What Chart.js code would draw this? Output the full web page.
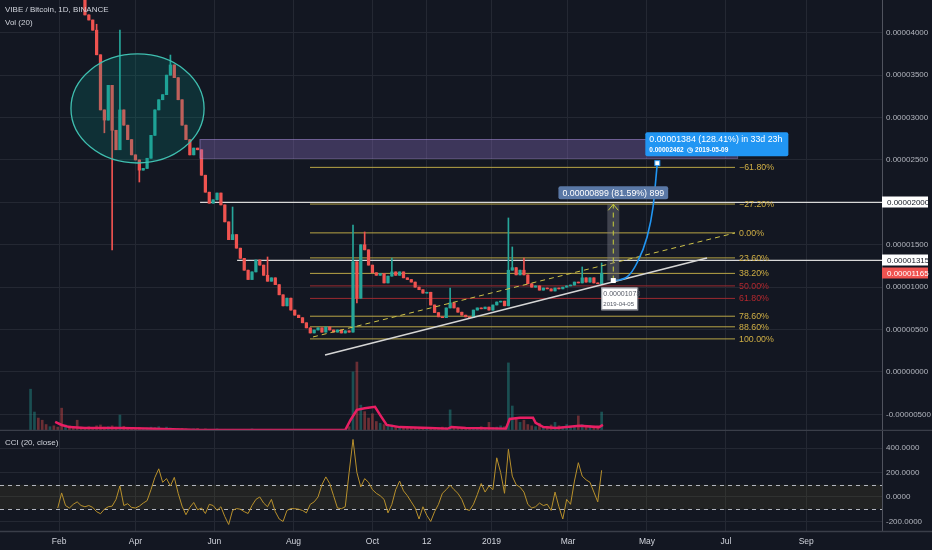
<!DOCTYPE html>
<html>
<head>
<meta charset="utf-8">
<script src="https://cdn.jsdelivr.net/npm/chart.js@4.4.1/dist/chart.umd.min.js"></script>
<style>
  html, body { margin: 0; padding: 0; background: #131722; }
  #wrap { position: relative; width: 932px; height: 550px; background: #131722; overflow: hidden; }
  canvas { position: absolute; left: 0; }
</style>
</head>
<body>
<div id="wrap">
  <canvas id="price" width="932" height="431" style="top:0"></canvas>
  <canvas id="cci" width="932" height="119" style="top:431px"></canvas>
</div>
<script>
// x values are days counted from 2018-02-01; prices are in satoshi (1e-8 BTC)
const startDay = -22;   // first candle 2018-01-10
const stepDays = 3;     // one candle per 3 days
const firstOpen = 6200;

const closes = [
  6500, 7000, 6800, 6200, 5900, 6000, 5600, 5300, 5100, 5200,
  4900, 4800, 4600, 4450, 4210, 4150, 4030, 3740, 3090, 2970,
  3380, 2850, 2620, 3090, 2910, 2740, 2560, 2500, 2380, 2400,
  2520, 2790, 3090, 3210, 3270, 3500, 3620, 3470, 3210, 2910,
  2740, 2560, 2640, 2620, 2320, 2120, 1990, 2030, 2110, 1970,
  1770, 1560, 1620, 1460, 1340, 1200, 1090, 1180, 1320, 1260,
  1140, 1070, 1110, 1030, 910, 780, 870, 730, 670, 640,
  580, 520, 460, 495, 520, 470, 530, 495, 470, 495,
  460, 485, 470, 1300, 870, 1500, 1440, 1260, 1170, 1140,
  1160, 1050, 1130, 1180, 1140, 1180, 1110, 1090, 1060, 1000,
  970, 930, 940, 790, 700, 650, 640, 755, 815, 755,
  705, 670, 650, 640, 730, 755, 745, 765, 730, 790,
  825, 835, 780, 1200, 1230, 1145, 1200, 1145, 1040, 1000,
  1015, 965, 990, 980, 955, 990, 980, 1000, 1015, 1025,
  1060, 1050, 1110, 1060, 1110, 1050, 1040, 1165
];
// notable wicks: [candle index, price]
const wickHighs = [[17, 4100], [23, 4032], [36, 3737], [52, 1945], [61, 1356], [83, 1733],
  [86, 1651], [93, 1344], [108, 990], [123, 1816], [124, 1474], [127, 1344], [142, 1238], [147, 1285]];
const wickLows = [[19, 2820], [21, 1440], [28, 2240], [84, 814]];

const volumes = [
  97, 44, 30, 25, 15, 10, 12, 9, 53, 14,
  12, 10, 25, 9, 8, 10, 7, 12, 14, 9,
  10, 12, 9, 37, 11, 8, 7, 6, 8, 6,
  7, 9, 8, 10, 6, 9, 7, 6, 5, 6,
  5, 4, 5, 6, 4, 5, 3, 4, 5, 3,
  4, 3, 4, 3, 3, 4, 3, 5, 3, 3,
  2, 3, 4, 3, 2, 3, 2, 2, 3, 2,
  2, 3, 2, 3, 2, 4, 3, 2, 3, 2,
  3, 4, 10, 137, 160, 60, 45, 30, 40, 22,
  18, 15, 12, 14, 10, 9, 8, 10, 7, 6,
  6, 7, 5, 8, 6, 7, 9, 8, 49, 10,
  7, 6, 5, 6, 8, 7, 10, 6, 20, 8,
  9, 12, 10, 158, 58, 30, 20, 25, 15, 12,
  10, 18, 9, 11, 14, 20, 12, 10, 15, 11,
  12, 35, 15, 10, 13, 11, 12, 44
];
const volMaDays = [-3, 2, 8, 20, 47, 66, 109, 221, 225, 230, 236, 244, 248, 253, 263, 286, 300, 303, 314, 345, 348, 356, 366, 368, 374, 384, 402, 417, 420];
const volMaValues = [21, 14, 9, 7, 7, 6, 2.3, 2.3, 25, 49, 53, 56, 37, 14, 9, 7, 5, 9, 7, 5, 28, 31, 31, 19, 9, 7, 12, 9, 14];

const cciValues = [
  null, null, null, null, null, null, null, -90, 33, -70,
  -90, -60, -40, -70, -80, -70, -85, -120, -137, -100,
  -80, -75, -20, 90, -70, -55, -85, -90, -75, -50,
  -30, 60, 160, 230, 120, 150, 90, 160, 30, -75,
  -145, -85, -45, -105, -90, -135, -60, -70, -110, -80,
  -160, -225, -110, -95, -100, -120, -135, -70, -20, 0,
  -50, -80, -20, -120, -180, -200, -110, -95, -96, -100,
  -110, -130, -60, -40, 0, 100, 164, 110, 10, -90,
  -96, -80, 200, 470, 200, 82, 150, 120, 60, 30,
  10, -20, -130, -60, 60, 130, 50, 10, -40, -90,
  -180, -80, -150, -200, -120, -60, 30, 60, 96, 60,
  30, -20, -100, -110, -60, 20, 110, 40, 90, 60,
  320, 200, 30, 390, 170, 100, 80, 40, -60, -90,
  -80, -50, -70, -60, -110, 40, -80, -180, -20, -60,
  130, 280, 170, 140, 120, 40, -40, 218
];

const monthDays = [0, 59, 120, 181, 242, 284, 334, 393, 454, 515, 577];
const monthLabels = ['Feb', 'Apr', 'Jun', 'Aug', 'Oct', '12', '2019', 'Mar', 'May', 'Jul', 'Sep'];
const priceTicks = [-500, 0, 500, 1000, 1500, 2000, 2500, 3000, 3500, 4000];
const cciTicks = [-200, 0, 200, 400];

const fibRatios = [-0.618, -0.272, 0, 0.236, 0.382, 0.5, 0.618, 0.786, 0.886, 1];
const fibLabels = ['\u221261.80%', '\u221227.20%', '0.00%', '23.60%', '38.20%', '50.00%', '61.80%', '78.60%', '88.60%', '100.00%'];
const fibHigh = 1640, fibLow = 390;
const fibDays = [193.8, 522];

const supportLine = [[205.4, 200], [500.4, 1344]];
const dashedTrend = [[196.1, 413], [522, 1639]];
const rayLevels = [[108.9, 2000], [137.5, 1315]];
const projDays = [428, 438.6, 446.3, 454.1, 458.7, 462];
const projValues = [1078, 1120, 1285, 1592, 1945, 2462];
const measureDay = 428, measureFrom = 1078, measureTo = 1977;
const zoneDays = [108.5, 523.6], zoneValues = [2523, 2747];
const ellipseCenter = [60.6, 3107], ellipseRadius = [51.4, 643];
const lastPrice = 1165;

const X_MIN = -45.6, X_MAX = 635.5;
const GRID = '#242833';
const UP = '#26a69a', DOWN = '#ef5350';
const FONT = "'Liberation Sans', Arial, sans-serif";

Chart.defaults.font.family = FONT;
Chart.defaults.font.size = 10;
Chart.defaults.color = '#b2b5be';

const candleDays = closes.map((_, i) => startDay + stepDays * i);
const opens = closes.map((c, i) => i === 0 ? firstOpen : closes[i - 1]);
const highs = closes.map((c, i) => Math.max(c, opens[i]));
const lows = closes.map((c, i) => Math.min(c, opens[i]));
wickHighs.forEach(([i, v]) => { highs[i] = Math.max(highs[i], v); });
wickLows.forEach(([i, v]) => { lows[i] = Math.min(lows[i], v); });
const isUp = closes.map((c, i) => c >= opens[i]);

const fmtPrice = v => (v < 0 ? '-' : '') + (Math.abs(v) / 1e8).toFixed(8);
const fmtCci = v => (v < 0 ? '-' : '') + Math.abs(v).toFixed(4);
const line = (pts, color, width, extra) => Object.assign({
  type: 'line', data: pts.map(([x, y]) => ({ x, y })), borderColor: color, borderWidth: width,
  pointRadius: 0, yAxisID: 'y', order: 2
}, extra || {});

const fibDatasets = fibRatios.map(r => {
  const v = fibHigh - r * (fibHigh - fibLow);
  const red = r === 0.5 || r === 0.618;
  return line([[fibDays[0], v], [fibDays[1], v]], red ? '#9c2a30' : '#b9a546', 1, { order: 15 });
});

function box(ctx, x, y, w, h, fill) {
  ctx.fillStyle = fill;
  ctx.beginPath();
  if (ctx.roundRect) ctx.roundRect(x, y, w, h, 2); else ctx.rect(x, y, w, h);
  ctx.fill();
}

const overlays = {
  id: 'overlays',
  afterDatasetsDraw(chart) {
    const { ctx, chartArea: a, scales: { x, y } } = chart;
    const px = d => x.getPixelForValue(d), py = v => y.getPixelForValue(v);
    ctx.save();
    ctx.beginPath(); ctx.rect(a.left, a.top, a.width, a.height); ctx.clip();

    // teal ellipse
    const cx = px(ellipseCenter[0]), cy = py(ellipseCenter[1]);
    const rx = px(ellipseCenter[0] + ellipseRadius[0]) - cx, ry = cy - py(ellipseCenter[1] + ellipseRadius[1]);
    ctx.beginPath(); ctx.ellipse(cx, cy, rx, ry, 0, 0, Math.PI * 2);
    ctx.fillStyle = 'rgba(0,150,136,0.2)'; ctx.fill();
    ctx.strokeStyle = '#3fbfb0'; ctx.lineWidth = 1.3; ctx.stroke();

    // purple zone
    const zx1 = px(zoneDays[0]), zx2 = px(zoneDays[1]);
    const zy1 = py(zoneValues[1]), zy2 = py(zoneValues[0]);
    ctx.fillStyle = 'rgba(149,117,205,0.33)';
    ctx.fillRect(zx1, zy1, zx2 - zx1, zy2 - zy1);
    ctx.strokeStyle = 'rgba(170,145,220,0.45)'; ctx.lineWidth = 1;
    ctx.strokeRect(zx1 + 0.5, zy1 + 0.5, zx2 - zx1, zy2 - zy1);

    // price-range measure
    const mx = px(measureDay), my1 = py(measureFrom), my2 = py(measureTo);
    ctx.fillStyle = 'rgba(120,123,134,0.45)';
    ctx.fillRect(mx - 6, my2, 12, my1 - my2);
    ctx.strokeStyle = '#c9cf3a'; ctx.lineWidth = 1; ctx.setLineDash([5, 4]);
    ctx.beginPath(); ctx.moveTo(mx, my1); ctx.lineTo(mx, my2); ctx.stroke();
    ctx.setLineDash([]);
    ctx.beginPath(); ctx.moveTo(mx - 5, my2 + 6); ctx.lineTo(mx, my2); ctx.lineTo(mx + 5, my2 + 6); ctx.stroke();

    // fib labels
    ctx.font = '8.8px ' + FONT;
    ctx.textBaseline = 'middle'; ctx.textAlign = 'left';
    fibRatios.forEach((r, i) => {
      const v = fibHigh - r * (fibHigh - fibLow);
      ctx.fillStyle = (r === 0.5 || r === 0.618) ? '#b3282e' : '#d0af45';
      ctx.fillText(fibLabels[i], px(fibDays[1]) + 4, py(v) + 0.5);
    });

    // end markers
    const ex = px(projDays[projDays.length - 1]), ey = py(projValues[projValues.length - 1]);
    const sx = px(projDays[0]), sy = py(projValues[0]);
    ctx.fillStyle = '#ffffff';
    ctx.fillRect(ex - 2.5, ey - 2.5, 5, 5);
    ctx.fillRect(sx - 2.5, sy - 2.5, 5, 5);
    ctx.strokeStyle = '#2196f3'; ctx.strokeRect(ex - 2.5, ey - 2.5, 5, 5);

    // projection label
    const t1 = '0.00001384 (128.41%) in 33d 23h', t2 = '0.00002462  \u25F7 2019-05-09';
    ctx.font = '8.8px ' + FONT;
    const w1 = ctx.measureText(t1).width;
    box(ctx, ex - 12, ey - 31, w1 + 10, 24, '#2196f3');
    ctx.fillStyle = '#ffffff';
    ctx.fillText(t1, ex - 8, ey - 24);
    ctx.font = 'bold 6.5px ' + FONT;
    ctx.fillText(t2, ex - 8, ey - 13);

    // measure label
    const t3 = '0.00000899 (81.59%) 899';
    ctx.font = '8.8px ' + FONT;
    const w3 = ctx.measureText(t3).width + 8;
    box(ctx, mx - w3 / 2, my2 - 18, w3, 13, '#5a78a6');
    ctx.fillStyle = '#ffffff';
    ctx.textAlign = 'center';
    ctx.fillText(t3, mx, my2 - 11);

    // start point label
    ctx.fillStyle = '#ffffff';
    ctx.fillRect(sx - 12, sy + 7, 36, 22);
    ctx.strokeStyle = '#9598a1'; ctx.strokeRect(sx - 12 + 0.5, sy + 7.5, 36, 22);
    ctx.textAlign = 'left';
    ctx.fillStyle = '#555a66';
    ctx.font = '7px ' + FONT;
    ctx.fillText('0.00001078', sx - 10, sy + 14);
    ctx.font = '6px ' + FONT;
    ctx.fillText('2019-04-05', sx - 10, sy + 24);
    ctx.restore();
  },
  afterDraw(chart) {
    const { ctx, chartArea: a, scales: { y } } = chart;
    ctx.save();
    // price scale tags
    const tag = (v, fill, color) => {
      const yy = Math.round(y.getPixelForValue(v));
      ctx.fillStyle = fill;
      ctx.fillRect(a.right, yy - 5.5, 46, 11);
      ctx.fillStyle = color;
      ctx.font = '8px ' + FONT;
      ctx.textBaseline = 'middle'; ctx.textAlign = 'left';
      ctx.fillText(fmtPrice(v), a.right + 5, yy + 0.5);
    };
    tag(rayLevels[0][1], '#ffffff', '#131722');
    tag(rayLevels[1][1], '#ffffff', '#131722');
    tag(lastPrice, '#ef5350', '#ffffff');

    // legend text
    ctx.fillStyle = '#d1d4dc';
    ctx.font = '8px ' + FONT;
    ctx.textBaseline = 'middle'; ctx.textAlign = 'left';
    ctx.fillText('VIBE / Bitcoin, 1D, BINANCE', 5, 10);
    ctx.fillText('Vol (20)', 5, 23);

    // pane separator
    ctx.strokeStyle = '#3a3e49'; ctx.lineWidth = 1.5;
    ctx.beginPath(); ctx.moveTo(0, a.bottom - 0.5); ctx.lineTo(chart.width, a.bottom - 0.5); ctx.stroke();
    ctx.restore();
  }
};

const xScale = (showLabels) => ({
  type: 'linear', min: X_MIN, max: X_MAX, offset: false,
  afterBuildTicks: s => { s.ticks = monthDays.map(v => ({ value: v })); },
  ticks: showLabels
    ? { display: true, callback: (v, i) => monthLabels[i], color: '#d1d4dc', padding: 6, maxRotation: 0, autoSkip: false, font: { size: 8.5 } }
    : { display: false },
  grid: { color: GRID, drawTicks: false, offset: false },
  border: { display: false },
  afterFit: s => { s.height = showLabels ? 19 : 0; s.paddingLeft = 0; s.paddingRight = 0; }
});

const yScale = (min, max, tickValues, fmt) => ({
  position: 'right', min, max,
  afterBuildTicks: s => { s.ticks = tickValues.map(v => ({ value: v })); },
  ticks: { callback: fmt, color: '#b2b5be', padding: 4, font: { size: 8 } },
  grid: { color: GRID, drawTicks: false },
  border: { color: '#50535e' },
  afterFit: s => { s.width = 50; s.paddingTop = 0; s.paddingBottom = 0; }
});

new Chart(document.getElementById('price'), {
  type: 'bar',
  data: {
    datasets: [
      {
        type: 'bar', yAxisID: 'yv', order: 20, grouped: false, barThickness: 2,
        data: volumes.map((v, i) => ({ x: candleDays[i], y: v })),
        backgroundColor: isUp.map(u => u ? 'rgba(38,166,154,0.4)' : 'rgba(239,83,80,0.4)')
      },
      line(volMaDays.map((d, i) => [d, volMaValues[i]]), '#e91e63', 2.5, { yAxisID: 'yv', order: 19 }),
      ...fibDatasets,
      line([rayLevels[0], [X_MAX + 5, rayLevels[0][1]]], '#d8d8d8', 1.3, { order: 14 }),
      line([rayLevels[1], [X_MAX + 5, rayLevels[1][1]]], '#d8d8d8', 1.3, { order: 14 }),
      {
        type: 'bar', yAxisID: 'y', order: 6, grouped: false, barThickness: 1,
        data: closes.map((c, i) => ({ x: candleDays[i], y: [lows[i], highs[i]] })),
        backgroundColor: isUp.map(u => u ? UP : DOWN)
      },
      {
        type: 'bar', yAxisID: 'y', order: 5, grouped: false, barThickness: 2.6,
        data: closes.map((c, i) => ({ x: candleDays[i], y: [opens[i], c] })),
        backgroundColor: isUp.map(u => u ? UP : DOWN)
      },
      line(supportLine, '#d6d6d6', 1.5, { order: 3 }),
      line(dashedTrend, '#cfc34a', 1, { order: 3, borderDash: [5, 4] }),
      line(projDays.map((d, i) => [d, projValues[i]]), '#2196f3', 1.6, { order: 1, cubicInterpolationMode: 'monotone' })
    ]
  },
  options: {
    responsive: false,
    animation: false,
    layout: { padding: 0 },
    plugins: { legend: { display: false }, tooltip: { enabled: false } },
    scales: {
      x: xScale(false),
      y: yScale(-696, 4386, priceTicks, fmtPrice),
      yv: { display: false, min: 0, max: 1000 }
    }
  },
  plugins: [overlays]
});

const cciBand = {
  id: 'cciBand',
  beforeDatasetsDraw(chart) {
    const { ctx, chartArea: a, scales: { y } } = chart;
    const t = y.getPixelForValue(100), b = y.getPixelForValue(-100);
    ctx.save();
    ctx.fillStyle = 'rgba(125,110,45,0.14)';
    ctx.fillRect(a.left, t, a.width, b - t);
    ctx.strokeStyle = '#b2b5be'; ctx.lineWidth = 1; ctx.setLineDash([4, 4]);
    [t, b].forEach(yy => { ctx.beginPath(); ctx.moveTo(a.left, Math.round(yy) + 0.5); ctx.lineTo(a.right, Math.round(yy) + 0.5); ctx.stroke(); });
    ctx.restore();
  },
  afterDraw(chart) {
    const { ctx, chartArea: a } = chart;
    ctx.save();
    ctx.fillStyle = '#d1d4dc';
    ctx.font = '8px ' + FONT;
    ctx.textBaseline = 'middle';
    ctx.fillText('CCI (20, close)', 5, 12);
    ctx.strokeStyle = '#3a3e49'; ctx.lineWidth = 1.5;
    ctx.beginPath(); ctx.moveTo(0, a.bottom + 0.5); ctx.lineTo(chart.width, a.bottom + 0.5); ctx.stroke();
    ctx.restore();
  }
};

new Chart(document.getElementById('cci'), {
  type: 'line',
  data: {
    datasets: [{
      data: cciValues.map((v, i) => ({ x: candleDays[i], y: v })).filter(p => p.y !== null),
      borderColor: '#b8902c', borderWidth: 1, pointRadius: 0, tension: 0
    }]
  },
  options: {
    responsive: false,
    animation: false,
    layout: { padding: 0 },
    plugins: { legend: { display: false }, tooltip: { enabled: false } },
    scales: {
      x: xScale(true),
      y: yScale(-278, 539, cciTicks, fmtCci)
    }
  },
  plugins: [cciBand]
});
</script>
</body>
</html>
